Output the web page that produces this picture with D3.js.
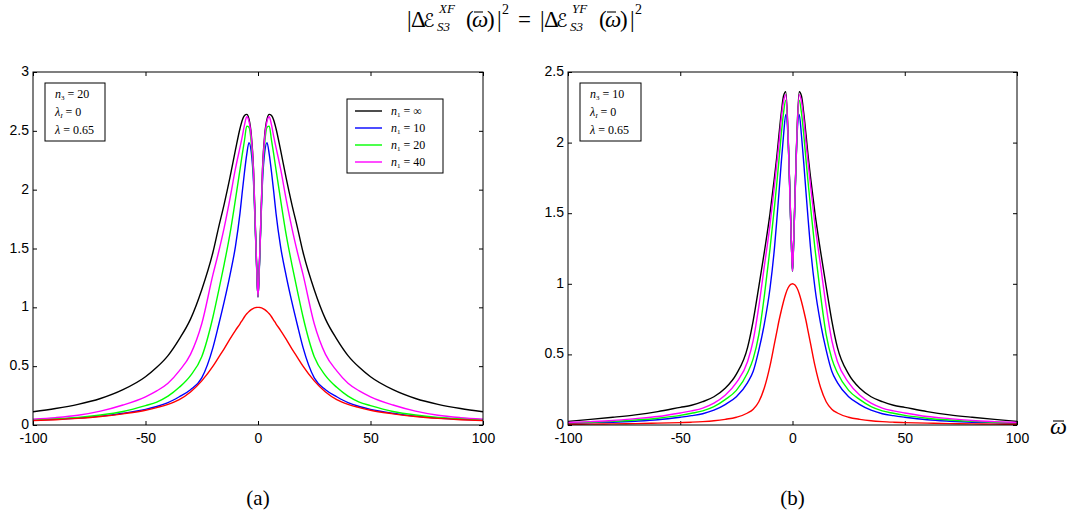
<!DOCTYPE html>
<html><head><meta charset="utf-8">
<script src="https://cdn.jsdelivr.net/npm/d3@7"></script>
<style>body{margin:0;background:#fff}svg{display:block}</style>
</head><body>
<svg id="chart" width="1070" height="520"></svg>
<script>
// ---- data ----
const omega = [-100,-90,-80,-70,-60,-50,-45,-40,-35,-30,-25,-20,-17.5,-15,-12.5,-10,-8,-7,-6,-5,-4,-3,-2,-1,-0.5,0,0.5,1,2,3,4,5,6,7,8,10,12.5,15,17.5,20,25,30,35,40,45,50,60,70,80,90,100];
const legendLabels = ["∞","10","20","40"];
const xTicks = [-100,-50,0,50,100];
const yTicksA = [0,0.5,1,1.5,2,2.5,3];
const yTicksB = [0,0.5,1,1.5,2,2.5];

const aBlack = [0.113,0.14,0.175,0.225,0.30,0.41,0.49,0.59,0.73,0.90,1.15,1.47,1.68,1.88,2.10,2.34,2.52,2.59,2.63,2.64,2.60,2.47,2.18,1.58,1.30,1.09,1.30,1.58,2.18,2.47,2.60,2.64,2.63,2.59,2.52,2.34,2.10,1.88,1.68,1.47,1.15,0.90,0.73,0.59,0.49,0.41,0.30,0.225,0.175,0.14,0.113];
const aBlue = [0.041,0.049,0.059,0.075,0.10,0.133,0.157,0.19,0.24,0.30,0.40,0.66,0.85,1.05,1.27,1.52,1.80,1.98,2.15,2.30,2.40,2.32,2.07,1.55,1.28,1.09,1.28,1.55,2.07,2.32,2.40,2.30,2.15,1.98,1.80,1.52,1.27,1.05,0.85,0.66,0.40,0.30,0.24,0.19,0.157,0.133,0.10,0.075,0.059,0.049,0.041];
const aGreen = [0.044,0.053,0.065,0.085,0.115,0.165,0.195,0.245,0.32,0.42,0.58,0.92,1.14,1.37,1.62,1.92,2.17,2.30,2.42,2.54,2.53,2.40,2.12,1.56,1.29,1.09,1.29,1.56,2.12,2.40,2.53,2.54,2.42,2.30,2.17,1.92,1.62,1.37,1.14,0.92,0.58,0.42,0.32,0.245,0.195,0.165,0.115,0.085,0.065,0.053,0.044];
const aMagenta = [0.050,0.063,0.083,0.118,0.17,0.24,0.29,0.355,0.46,0.60,0.86,1.28,1.47,1.68,1.92,2.18,2.36,2.45,2.55,2.62,2.58,2.45,2.16,1.57,1.30,1.09,1.30,1.57,2.16,2.45,2.58,2.62,2.55,2.45,2.36,2.18,1.92,1.68,1.47,1.28,0.86,0.60,0.46,0.355,0.29,0.24,0.17,0.118,0.083,0.063,0.050];
const aRed = [0.037,0.045,0.056,0.072,0.095,0.125,0.148,0.175,0.215,0.28,0.375,0.50,0.575,0.65,0.73,0.805,0.86,0.89,0.92,0.945,0.965,0.98,0.992,0.998,1.0,1.0,1.0,0.998,0.992,0.98,0.965,0.945,0.92,0.89,0.86,0.805,0.73,0.65,0.575,0.50,0.375,0.28,0.215,0.175,0.148,0.125,0.095,0.072,0.056,0.045,0.037];

const bBlack = [0.026,0.04,0.055,0.072,0.095,0.125,0.14,0.165,0.20,0.26,0.36,0.55,0.74,0.98,1.23,1.50,1.76,1.90,2.06,2.21,2.33,2.36,2.08,1.56,1.30,1.09,1.30,1.56,2.08,2.36,2.33,2.21,2.06,1.90,1.76,1.50,1.23,0.98,0.74,0.55,0.36,0.26,0.20,0.165,0.14,0.125,0.095,0.072,0.055,0.04,0.026];
const bBlue = [0.012,0.016,0.02,0.027,0.037,0.055,0.066,0.08,0.105,0.145,0.20,0.30,0.38,0.53,0.72,0.97,1.26,1.45,1.65,1.86,2.05,2.20,2.04,1.54,1.28,1.09,1.28,1.54,2.04,2.20,2.05,1.86,1.65,1.45,1.26,0.97,0.72,0.53,0.38,0.30,0.20,0.145,0.105,0.08,0.066,0.055,0.037,0.027,0.02,0.016,0.012];
const bGreen = [0.015,0.02,0.026,0.035,0.048,0.068,0.083,0.10,0.13,0.18,0.245,0.37,0.47,0.64,0.92,1.25,1.55,1.71,1.88,2.06,2.21,2.30,2.06,1.55,1.29,1.09,1.29,1.55,2.06,2.30,2.21,2.06,1.88,1.71,1.55,1.25,0.92,0.64,0.47,0.37,0.245,0.18,0.13,0.10,0.083,0.068,0.048,0.035,0.026,0.02,0.015];
const bMagenta = [0.018,0.024,0.032,0.045,0.06,0.085,0.10,0.12,0.155,0.21,0.30,0.45,0.60,0.84,1.13,1.42,1.70,1.85,2.00,2.17,2.29,2.34,2.07,1.55,1.29,1.09,1.29,1.55,2.07,2.34,2.29,2.17,2.00,1.85,1.70,1.42,1.13,0.84,0.60,0.45,0.30,0.21,0.155,0.12,0.10,0.085,0.06,0.045,0.032,0.024,0.018];
const bRed = [0.005,0.006,0.008,0.010,0.013,0.017,0.020,0.024,0.030,0.040,0.055,0.085,0.112,0.165,0.265,0.42,0.58,0.66,0.74,0.81,0.875,0.93,0.97,0.993,0.998,1.0,0.998,0.993,0.97,0.93,0.875,0.81,0.74,0.66,0.58,0.42,0.265,0.165,0.112,0.085,0.055,0.040,0.030,0.024,0.020,0.017,0.013,0.010,0.008,0.006,0.005];

const colors = {black:"#000000", blue:"#0000ff", green:"#00ff00", magenta:"#ff00ff", red:"#ff0000"};

// ---- drawing ----
const svg = d3.select("#chart");
const serif = "'Liberation Serif','DejaVu Serif',serif";
const sans = "'Liberation Sans',Arial,sans-serif";
const tickFmt = d => String(d);

function panel(opts){
  const x = d3.scaleLinear().domain([-100,100]).range([opts.x0, opts.x1]);
  const y = d3.scaleLinear().domain([0, opts.ymax]).range([425, 72]);
  const g = svg.append("g");
  const clipId = "clip" + opts.id;
  svg.append("defs").append("clipPath").attr("id", clipId)
    .append("rect").attr("x", opts.x0).attr("y", 72).attr("width", opts.x1-opts.x0).attr("height", 353);
  const axB = d3.axisBottom(x).tickValues(xTicks).tickFormat(tickFmt).tickSizeInner(-4).tickSizeOuter(0).tickPadding(8);
  const axT = d3.axisTop(x).tickValues(xTicks).tickFormat("").tickSizeInner(-4).tickSizeOuter(0);
  const axL = d3.axisLeft(y).tickValues(opts.yTicks).tickFormat(tickFmt).tickSizeInner(-4).tickSizeOuter(0).tickPadding(4);
  const axR = d3.axisRight(y).tickValues(opts.yTicks).tickFormat("").tickSizeInner(-4).tickSizeOuter(0);
  const style = s => s.call(sel => { sel.select(".domain").remove(); sel.selectAll("line").attr("stroke","#000");
      sel.selectAll("text").attr("font-family", sans).attr("font-size", 14).attr("fill","#000"); });
  g.append("g").attr("transform","translate(0,425)").call(axB).call(style);
  g.append("g").attr("transform","translate(0,72)").call(axT).call(style);
  const gl = g.append("g").attr("transform",`translate(${opts.x0},0)`).call(axL).call(style);
  gl.selectAll("text").attr("dy","0.25em");
  g.append("g").attr("transform",`translate(${opts.x1},0)`).call(axR).call(style);

  const line = d3.line().x((d,i)=>x(omega[i])).y(d=>y(d)).curve(d3.curveMonotoneX);
  const cg = g.append("g").attr("clip-path", `url(#${clipId})`);
  opts.series.forEach(s => {
    cg.append("path").attr("d", line(s.values)).attr("fill","none")
      .attr("stroke", s.color).attr("stroke-width", 1.4).attr("stroke-linejoin","round");
  });
  g.append("rect").attr("x", opts.x0).attr("y", 72).attr("width", opts.x1-opts.x0).attr("height", 353)
    .attr("fill","none").attr("stroke","#000").attr("stroke-width",1);

  // parameter box
  const bx = opts.box;
  g.append("rect").attr("x", bx.x).attr("y", 83).attr("width", bx.w).attr("height", 58)
    .attr("fill","#fff").attr("stroke","#000").attr("stroke-width",1);
  const fs = 12;
  const t1 = g.append("text").attr("x", bx.x+10).attr("y", 98).attr("font-family", serif).attr("font-size", fs);
  t1.append("tspan").attr("font-style","italic").text("n");
  t1.append("tspan").attr("font-size", 7).attr("dy", 2).text("3");
  t1.append("tspan").attr("dy", -2).text(" = " + opts.n3);
  const t2 = g.append("text").attr("x", bx.x+10).attr("y", 116).attr("font-family", serif).attr("font-size", fs);
  t2.append("tspan").attr("font-style","italic").text("λ");
  t2.append("tspan").attr("font-size", 7).attr("font-style","italic").attr("dy", 2).text("I");
  t2.append("tspan").attr("dy", -2).text(" = 0");
  const t3 = g.append("text").attr("x", bx.x+10).attr("y", 134).attr("font-family", serif).attr("font-size", fs);
  t3.append("tspan").attr("font-style","italic").text("λ");
  t3.append("tspan").text(" = 0.65");

  g.append("text").attr("x", (opts.x0+opts.x1)/2).attr("y", 505).attr("text-anchor","middle")
    .attr("font-family", serif).attr("font-size", 21).text(opts.label);
  return {x, y, g};
}

panel({id:"a", x0:33, x1:483, ymax:3, yTicks:yTicksA, n3:"20", label:"(a)",
  box:{x:45, w:60},
  series:[{values:aBlack,color:colors.black},{values:aBlue,color:colors.blue},{values:aGreen,color:colors.green},
          {values:aMagenta,color:colors.magenta},{values:aRed,color:colors.red}]});
panel({id:"b", x0:568, x1:1017, ymax:2.5, yTicks:yTicksB, n3:"10", label:"(b)",
  box:{x:580, w:61},
  series:[{values:bBlack,color:colors.black},{values:bBlue,color:colors.blue},{values:bGreen,color:colors.green},
          {values:bMagenta,color:colors.magenta},{values:bRed,color:colors.red}]});

// legend in panel (a)
const lg = svg.append("g");
lg.append("rect").attr("x",347).attr("y",99).attr("width",96).attr("height",74).attr("fill","#fff").attr("stroke","#000");
const legColors = [colors.black, colors.blue, colors.green, colors.magenta];
legendLabels.forEach((lab,i) => {
  const yy = 111 + i*17;
  lg.append("line").attr("x1",355).attr("x2",382).attr("y1",yy).attr("y2",yy).attr("stroke",legColors[i]).attr("stroke-width",1.4);
  const t = lg.append("text").attr("x",391).attr("y",yy+4).attr("font-family",serif).attr("font-size",12);
  t.append("tspan").attr("font-style","italic").text("n");
  t.append("tspan").attr("font-size",7).attr("dy",2).text("1");
  t.append("tspan").attr("dy",-2).text(" = " + lab);
});

// helpers for math text
function tt(x, y, size, txt, italic, fam){
  svg.append("text").attr("x",x).attr("y",y).attr("font-family",fam || serif).attr("font-size",size)
    .attr("font-style", italic ? "italic" : "normal").attr("fill","#000").text(txt);
}
function bar(x1, x2, y){
  svg.append("line").attr("x1",x1).attr("x2",x2).attr("y1",y).attr("y2",y).attr("stroke","#000").attr("stroke-width",1.1);
}

// x-axis symbol ω̄
tt(1050, 434, 24, "ω", true);
bar(1053, 1064, 421);

// title
[[407,"XF"],[540,"YF"]].forEach(([x0,sup]) => {
  tt(x0, 27, 23, "|", false);
  tt(x0+4, 27, 23, "Δ", false);
  tt(x0+16, 27, 19, "ℰ", false, "'DejaVu Sans',sans-serif");
  tt(x0+32, 13, 13, sup, true);
  tt(x0+30, 31, 13, "S3", true);
  tt(x0+59, 27, 23, "(", false);
  tt(x0+65, 27, 23, "ω", true);
  bar(x0+67, x0+76, 12);
  tt(x0+80, 27, 23, ")", false);
  tt(x0+90, 27, 23, "|", false);
  tt(x0+95, 14, 14, "2", false);
});
tt(518, 27, 23, "=", false);
</script>
</body></html>
